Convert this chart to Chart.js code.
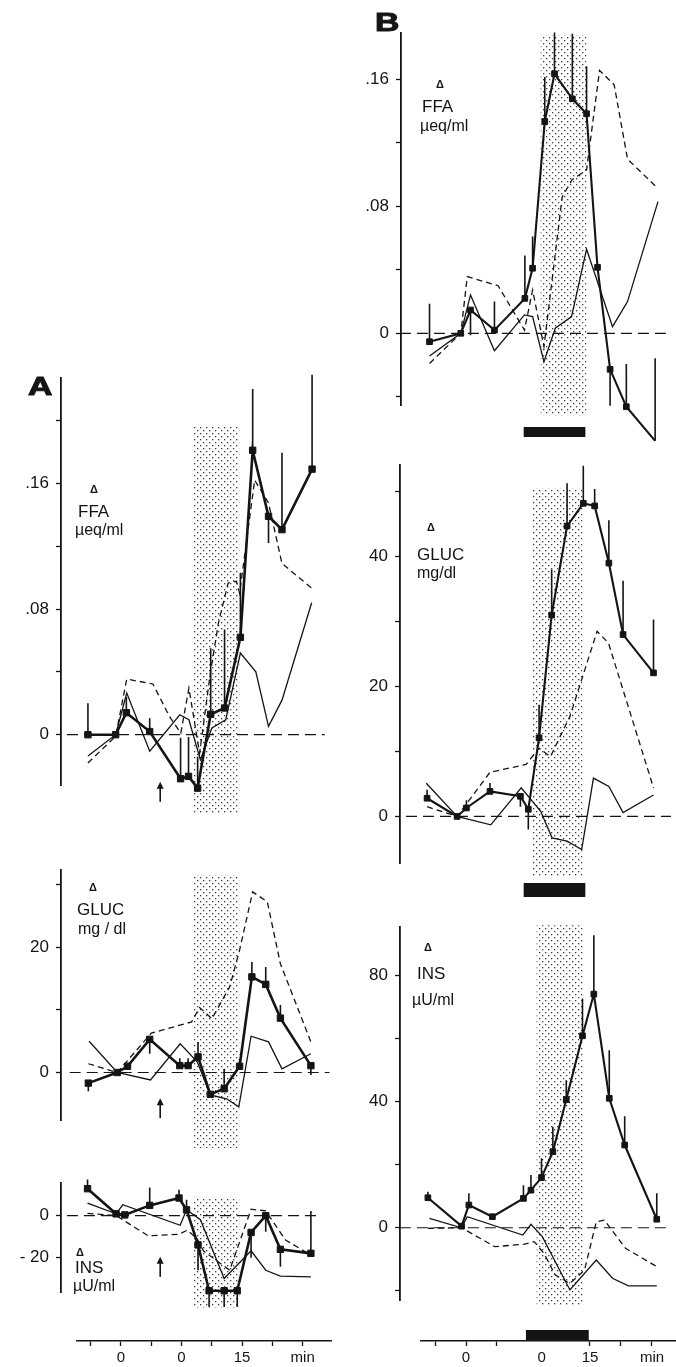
<!DOCTYPE html>
<html>
<head>
<meta charset="utf-8">
<script src="https://cdn.jsdelivr.net/npm/chart.js@4.4.1/dist/chart.umd.min.js"></script>
<style>
  html, body { margin: 0; padding: 0; background: #fff; }
  #page { position: relative; width: 676px; height: 1367px; overflow: hidden; }
  canvas { position: absolute; }
  .lbl { position: absolute; font-family: "Liberation Sans", Arial, sans-serif; color: #141414; line-height: 1; white-space: nowrap; }
</style>
</head>
<body>
<div id="page"></div>
<script>
// Each mean point is [minutes, change, error bar (signed)]; thin / dashed curves are [minutes, change]

// Panel A
const A_FFA_MEAN = [[-23, 0, 0.02], [-16, 0, 0], [-13.3, 0.014, 0.01], [-7.4, 0.002, 0.0085], [0.4, -0.028, 0.026], [2.4, -0.0265, 0.025], [4.7, -0.034, 0.02], [8, 0.013, 0.042], [11.5, 0.017, 0.05], [15.5, 0.062, 0.041], [18.6, 0.181, 0.039], [22.6, 0.139, -0.017], [26, 0.1305, 0.049], [33.6, 0.169, 0.06]];
const A_FFA_THIN = [[-23, -0.0135], [-16, 0], [-13.2, 0.0265], [-7.4, -0.0105], [0.2, 0.0127], [2.5, 0.0095], [5.4, -0.016], [8.3, 0.0043], [11.8, 0.0095], [15.5, 0.052], [19.4, 0.04], [22.6, 0.0053], [26, 0.022], [33.5, 0.084]];
const A_FFA_DASH = [[-23, -0.018], [-16, -0.001], [-13.2, 0.0354], [-6.6, 0.0323], [-2.4, 0.0116], [0.45, 0.001], [2.5, 0.0297], [5.2, -0.0117], [7.9, 0.039], [9.95, 0.071], [12.4, 0.0965], [14.5, 0.0976], [15.3, 0.09], [19.1, 0.162], [22.6, 0.1475], [26, 0.109], [33.5, 0.0933]];

const A_GLUC_MEAN = [[-22.9, -1.7, -1.3], [-15.6, 0, 0], [-13, 1, 0], [-7.4, 5.3, -2.3], [0.2, 1.1, 1.2], [2.3, 1.1, 1.2], [4.8, 2.5, 2.4], [7.9, -3.5, 0], [11.4, -2.6, 3.2], [15.3, 1, 1.2], [18.4, 15.3, 2.4], [21.9, 14.1, 2.8], [25.6, 8.7, 2.1], [33.3, 1.1, -1.5]];
const A_GLUC_THIN = [[-22.7, 5], [-15.6, 0], [-7.2, -1.2], [0.3, 4.6], [4.6, 1.7], [7.9, -3.6], [12, -4.2], [15.1, -5.5], [18.2, 5.8], [22.6, 4.9], [26, 0.6], [33.3, 3]];
const A_GLUC_DASH = [[-22.9, 1.4], [-15.6, 0], [-7, 6.3], [3.2, 8.1], [5.2, 10.4], [8.3, 8.6], [12.8, 13.7], [15.3, 19.6], [18.6, 28.9], [22.3, 27.3], [25.6, 17.4], [33.3, 4.9]];

const A_INS_MEAN = [[-23.1, 12.7, 4.3], [-15.9, 0.8, 0], [-13.7, 0.3, 0], [-7.4, 4.8, 8.5], [0, 8.3, 3.9], [1.9, 2.7, 4.8], [4.8, -13.9, -12], [7.6, -35.6, -7.7], [11.4, -35.6, -7.7], [14.7, -35.6, -7.7], [18.2, -8, -12], [21.9, -0.1, -7.6], [25.6, -16, -8.3], [33.3, -17.9, 20]];
const A_INS_THIN = [[-23.1, 5.9], [-15.9, 0.8], [-14.2, 5.1], [0.3, -4.6], [1.9, 2.7], [5.4, -2], [11.4, -29.8], [18.2, -16.7], [21.9, -25.9], [25.6, -28.7], [33.3, -29]];
const A_INS_DASH = [[-23.1, 1], [-15.9, 0], [-7.8, -9.6], [0, -8.9], [2.1, -6.9], [4.6, -11], [6.2, -16.8], [12.8, -25.9], [18.2, 3], [21.9, 2.2], [26.9, -11.6], [32.6, -17.9]];

// Panel B
const B_FFA_MEAN = [[-23.7, -0.0053, 0.024], [-16, 0, 0], [-13.6, 0.0147, -0.016], [-7.7, 0.002, 0.018], [-0.2, 0.022, 0.027], [1.7, 0.041, 0.02], [4.7, 0.1335, 0.028], [7.1, 0.1636, 0.026], [11.5, 0.1478, 0.041], [15, 0.1384, 0.03], [17.7, 0.0416, 0], [20.8, -0.0227, -0.023], [24.8, -0.0463, 0.027], [31.9, -0.0678, 0.052]];
const B_FFA_THIN = [[-23.7, -0.0143], [-16, 0], [-13.6, 0.0242], [-7.7, -0.011], [-0.3, 0.0116], [1.7, 0.0105], [4.5, -0.0179], [7.3, 0.0032], [11.3, 0.0105], [15, 0.053], [21.4, 0.0042], [25.1, 0.02], [32.6, 0.083]];
const B_FFA_DASH = [[-23.7, -0.019], [-16, 0], [-14.4, 0.0357], [-6.8, 0.03], [-0.3, 0.002], [1.7, 0.0273], [4.5, -0.0085], [9, 0.086], [11.4, 0.0967], [15, 0.103], [18.2, 0.1657], [21.8, 0.1567], [25.1, 0.1098], [32.3, 0.092]];

const B_GLUC_MEAN = [[-24.3, 2.8, 1.3], [-16.9, 0, 0], [-14.6, 1.3, 1.2], [-8.8, 3.85, 1.3], [-1.3, 3.1, -1.6], [0.65, 1.1, -3.1], [3.3, 12.1, 5.1], [6.4, 31, 7], [10.2, 44.7, 6.6], [14.2, 48.2, 5.8], [17, 47.8, 2.6], [20.5, 39, 6.6], [24, 28, 8.3], [31.5, 22.1, 8.2]];
const B_GLUC_THIN = [[-24.5, 5.1], [-16.9, 0], [-8.6, -1.3], [-1.1, 4.4], [3.7, 0.8], [6.5, -3.3], [10.2, -3.8], [13.8, -5.1], [16.7, 5.9], [20.5, 4.6], [24, 0.6], [31.5, 3.3]];
const B_GLUC_DASH = [[-24.3, 1.5], [-16.9, 0], [-8.8, 6.8], [0.1, 8], [3.3, 10.5], [6.1, 9.2], [10.9, 15.4], [17.6, 28.5], [20.4, 26.7], [31.5, 4.4]];

const B_INS_MEAN = [[-24.1, 9.5, 1.9], [-15.8, 0.5, 0], [-14, 7.2, 3.7], [-8.2, 3.5, 0], [-0.55, 9.3, 4.2], [1.3, 11.9, 4.8], [3.9, 15.9, 6.1], [6.7, 24.1, 7.9], [10, 40.6, 6.1], [14, 60.8, 11.8], [16.8, 74, 18.6], [20.6, 41, 15.2], [24.4, 26.2, 9.1], [32.3, 2.7, 8.2]];
const B_INS_THIN = [[-23.7, 3], [-15.8, 0], [-14.4, 3.5], [-0.7, -2.3], [1.3, 1.1], [4.1, -2.8], [10.9, -19.7], [17.4, -10.2], [21.4, -16], [25.3, -18.4], [32.3, -18.4]];
const B_INS_DASH = [[-24.1, -0.2], [-15.8, 0], [-7.6, -6], [-0.3, -5.2], [2.1, -4.4], [4.5, -8.1], [7.3, -15], [10.9, -17.6], [14.5, -13.4], [17.4, 1.9], [19.4, 2.4], [24.6, -6.5], [32.3, -12.3]];

// tick values and their labels
const FFA_A_TICKS = [0, 0.04, 0.08, 0.12, 0.16, 0.2];
const FFA_A_LABELS = ['0', '', '.08', '', '.16', ''];
const GLUC_A_TICKS = [0, 10, 20, 30];
const GLUC_A_LABELS = ['0', '', '20', ''];
const INS_A_TICKS = [-20, 0];
const INS_A_LABELS = ['- 20', '0'];
const FFA_B_TICKS = [-0.04, 0, 0.04, 0.08, 0.12, 0.16];
const FFA_B_LABELS = ['', '0', '', '.08', '', '.16'];
const GLUC_B_TICKS = [0, 10, 20, 30, 40, 50];
const GLUC_B_LABELS = ['0', '', '20', '', '40', ''];
const INS_B_TICKS = [-20, 0, 20, 40, 60, 80];
const INS_B_LABELS = ['', '0', '', '40', '', '80'];
const TIME_A_TICKS = [-22.5, -15, -7.5, 0, 7.5, 15, 22.5, 30];
const TIME_A_LABELS = ['', '0', '', '0', '', '15', '', 'min'];
const TIME_B_TICKS = [-22.5, -15, -7.5, 3.3, 15, 22.5, 30];
const TIME_B_LABELS = ['', '0', '', '0', '15', '', 'min'];

// infusion period (min)
const INFUSION_A = [3.6, 15.2];
const INFUSION_B = [-0.5, 14.7];

const INK = '#141414';
const FONT = "'Liberation Sans', Arial, sans-serif";
const page = document.getElementById('page');

// stipple for the shaded period
const dotTile = document.createElement('canvas');
dotTile.width = 6; dotTile.height = 6;
(function () {
  const g = dotTile.getContext('2d');
  g.fillStyle = '#3a3a3a';
  g.fillRect(0, 0, 1.3, 1.3);
  g.fillRect(3, 3, 1.3, 1.3);
})();

const decor = {
  id: 'decor',
  beforeDatasetsDraw(chart, args, o) {
    if (!o.shade) return;
    const { ctx, scales: { x, y } } = chart;
    const l = x.getPixelForValue(o.shade[0]), r = x.getPixelForValue(o.shade[1]);
    const t = y.getPixelForValue(o.shade[2]), b = y.getPixelForValue(o.shade[3]);
    ctx.save();
    ctx.fillStyle = ctx.createPattern(dotTile, 'repeat');
    ctx.fillRect(l, t, r - l, b - t);
    ctx.restore();
  },
  afterDatasetsDraw(chart, args, o) {
    const { ctx, chartArea, scales: { x, y } } = chart;
    ctx.save();
    ctx.fillStyle = INK;
    ctx.strokeStyle = INK;
    if (o.bar) {
      const l = x.getPixelForValue(o.bar[0]), r = x.getPixelForValue(o.bar[1]);
      ctx.fillRect(l, chartArea.bottom + o.barY[0], r - l, o.barY[1] - o.barY[0]);
    }
    if (o.arrow) {
      const ax = x.getPixelForValue(o.arrow[0]);
      const ty = y.getPixelForValue(o.arrow[1]), by = y.getPixelForValue(o.arrow[2]);
      ctx.lineWidth = 1.6;
      ctx.beginPath(); ctx.moveTo(ax, by); ctx.lineTo(ax, ty + 5); ctx.stroke();
      ctx.beginPath(); ctx.moveTo(ax, ty); ctx.lineTo(ax - 3.5, ty + 7); ctx.lineTo(ax + 3.5, ty + 7); ctx.closePath(); ctx.fill();
    }
    ctx.restore();
  }
};

const pts = arr => arr.map(p => ({ x: p[0], y: p[1] }));
const errs = arr => arr.flatMap(p => p[2] ? [{ x: p[0], y: p[1] }, { x: p[0], y: p[1] + p[2] }, { x: p[0], y: null }] : []);

function addCanvas(left, top, w, h) {
  const c = document.createElement('canvas');
  c.width = w; c.height = h;
  c.style.left = left + 'px';
  c.style.top = top + 'px';
  page.appendChild(c);
  return c;
}

function yAxis(min, max, ticks, labels) {
  return {
    type: 'linear', min, max,
    afterBuildTicks: s => { s.ticks = ticks.map(v => ({ value: v })); },
    afterFit: s => { s.width = 56; },
    border: { display: true, color: INK, width: 1.8 },
    grid: { display: true, drawOnChartArea: false, drawTicks: true, tickLength: 5, tickColor: INK, tickWidth: 1.3 },
    ticks: { color: INK, font: { family: FONT, size: 17 }, padding: 7, autoSkip: false, callback: (v, i) => labels[i] }
  };
}

// one sub-plot: area = [left(axis), top, right, bottom] in page pixels
function plot(p) {
  const [L, T, R, B] = p.area;
  const c = addCanvas(L - 56, T - 20, R - L + 56, B - T + 20 + p.padBottom);
  new Chart(c, {
    type: 'line',
    data: {
      datasets: [
        { data: pts(p.mean), borderColor: INK, borderWidth: p.thick, pointStyle: 'rect', pointRadius: p.pr, pointBackgroundColor: INK, pointBorderColor: INK, pointBorderWidth: 1, clip: false, order: 0 },
        { data: errs(p.mean), borderColor: INK, borderWidth: 1.6, pointRadius: 0, clip: false, spanGaps: false, order: 1 },
        { data: pts(p.thin), borderColor: INK, borderWidth: 1.3, pointRadius: 0, clip: false, order: 2 },
        { data: pts(p.dash), borderColor: INK, borderWidth: 1.3, borderDash: [6, 4], pointRadius: 0, clip: false, order: 3 },
        { data: [{ x: p.zero[0], y: 0 }, { x: p.zero[1], y: 0 }], borderColor: INK, borderWidth: 1.2, borderDash: [11, 6], pointRadius: 0, clip: false, order: 4 }
      ]
    },
    options: {
      responsive: false, animation: false, devicePixelRatio: 1,
      layout: { padding: { left: 0, top: 20, right: 0, bottom: p.padBottom } },
      plugins: { legend: { display: false }, tooltip: { enabled: false }, decor: p.decor },
      scales: {
        x: { type: 'linear', display: false, min: p.x[0], max: p.x[1] },
        y: yAxis(p.y[0], p.y[1], p.ticks, p.labels)
      }
    },
    plugins: [decor]
  });
}

// bottom time axis
function timeAxis(p) {
  const c = addCanvas(p.left, 1315, p.right - p.left, 52);
  new Chart(c, {
    type: 'line',
    data: { datasets: [] },
    options: {
      responsive: false, animation: false, devicePixelRatio: 1,
      layout: { padding: 0 },
      plugins: { legend: { display: false }, tooltip: { enabled: false }, decor: p.decor },
      scales: {
        x: {
          type: 'linear', position: 'bottom', min: p.x[0], max: p.x[1],
          afterBuildTicks: s => { s.ticks = p.ticks.map(v => ({ value: v })); },
          afterFit: s => { s.height = 26; },
          border: { display: true, color: INK, width: 1.6 },
          grid: { display: true, drawOnChartArea: false, tickLength: 5, tickWidth: 1.3, tickColor: ctx => p.hide.includes(ctx.index) ? 'rgba(0,0,0,0)' : INK },
          ticks: { color: INK, font: { family: FONT, size: 15 }, padding: 3, maxRotation: 0, autoSkip: false, callback: (v, i) => p.labels[i] }
        },
        y: { display: false, min: 0, max: 1 }
      }
    },
    plugins: [decor]
  });
}

const AX = [-29.8, 38.0];
const BX = [-30.97, 35.81];

plot({ area: [61, 378, 335, 785], padBottom: 36, x: AX, y: [-0.032, 0.227], ticks: FFA_A_TICKS, labels: FFA_A_LABELS,
  mean: A_FFA_MEAN, thin: A_FFA_THIN, dash: A_FFA_DASH, zero: [-28.3, 36.8], thick: 2.6, pr: 4.5,
  decor: { shade: [INFUSION_A[0], INFUSION_A[1], 0.196, -0.05], arrow: [-4.75, -0.03, -0.0427] } });
plot({ area: [61, 870, 335, 1120], padBottom: 36, x: AX, y: [-7.6, 32.4], ticks: GLUC_A_TICKS, labels: GLUC_A_LABELS,
  mean: A_GLUC_MEAN, thin: A_GLUC_THIN, dash: A_GLUC_DASH, zero: [-27.6, 38], thick: 2.6, pr: 4.5,
  decor: { shade: [INFUSION_A[0], INFUSION_A[1], 31.6, -12.1], arrow: [-4.75, -4.1, -7.3] } });
plot({ area: [61, 1183, 335, 1292], padBottom: 22, x: AX, y: [-36.2, 15.4], ticks: INS_A_TICKS, labels: INS_A_LABELS,
  mean: A_INS_MEAN, thin: A_INS_THIN, dash: A_INS_DASH, zero: [-28.3, 34.8], thick: 2.6, pr: 4.5,
  decor: { shade: [INFUSION_A[0], INFUSION_A[1], 8.4, -43.5], arrow: [-4.75, -19.5, -29] } });
timeAxis({ left: 76, right: 332, x: [-26.1, 37.25], ticks: TIME_A_TICKS, labels: TIME_A_LABELS, hide: [], decor: {} });

plot({ area: [401, 33, 676, 405], padBottom: 42, x: [-30.73, 35.81], y: [-0.0452, 0.1893], ticks: FFA_B_TICKS, labels: FFA_B_LABELS,
  mean: B_FFA_MEAN, thin: B_FFA_THIN, dash: B_FFA_DASH, zero: [-31, 35.8], thick: 2.1, pr: 4,
  decor: { shade: [3.7, 15, 0.188, -0.0516], bar: INFUSION_B, barY: [22, 32] } });
plot({ area: [400, 465, 676, 863], padBottom: 40, x: BX, y: [-7.17, 54.1], ticks: GLUC_B_TICKS, labels: GLUC_B_LABELS,
  mean: B_GLUC_MEAN, thin: B_GLUC_THIN, dash: B_GLUC_DASH, zero: [-29.5, 35.8], thick: 2.1, pr: 4,
  decor: { shade: [1.7, 14, 50.5, -9.2], bar: INFUSION_B, barY: [20, 34] } });
plot({ area: [400, 927, 676, 1300], padBottom: 22, x: BX, y: [-22.88, 95.25], ticks: INS_B_TICKS, labels: INS_B_LABELS,
  mean: B_INS_MEAN, thin: B_INS_THIN, dash: B_INS_DASH, zero: [-31, 35.8], thick: 2.1, pr: 4,
  decor: { shade: [2.7, 14.2, 95.8, -24.5] } });
timeAxis({ left: 420, right: 676, x: [-26.13, 35.81], ticks: TIME_B_TICKS, labels: TIME_B_LABELS, hide: [3], decor: { bar: INFUSION_B, barY: [-11, 0] } });

// text labels
function label(text, x, y, size, extra) {
  const d = document.createElement('div');
  d.className = 'lbl';
  d.textContent = text;
  d.style.left = x + 'px';
  d.style.top = y + 'px';
  d.style.fontSize = size + 'px';
  if (extra) Object.assign(d.style, extra);
  page.appendChild(d);
}
const big = { fontWeight: 'bold', transform: 'scaleX(1.3)', transformOrigin: 'left top', webkitTextStroke: '1px #141414' };
label('A', 28, 373, 26, big);
label('B', 375, 9, 26, big);

const tri = { fontWeight: 'bold' };
label('Δ', 90, 484, 11, tri);  label('FFA', 78, 503, 17); label('µeq/ml', 75, 522, 16);
label('Δ', 89, 882, 11, tri);  label('GLUC', 77, 901, 17); label('mg / dl', 78, 921, 16);
label('Δ', 76, 1247, 11, tri); label('INS', 75, 1259, 17); label('µU/ml', 73, 1278, 16);
label('Δ', 436, 79, 11, tri);  label('FFA', 422, 98, 17); label('µeq/ml', 420, 118, 16);
label('Δ', 427, 522, 11, tri); label('GLUC', 417, 546, 17); label('mg/dl', 417, 565, 16);
label('Δ', 424, 942, 11, tri); label('INS', 417, 965, 17); label('µU/ml', 412, 992, 16);
</script>
</body>
</html>
